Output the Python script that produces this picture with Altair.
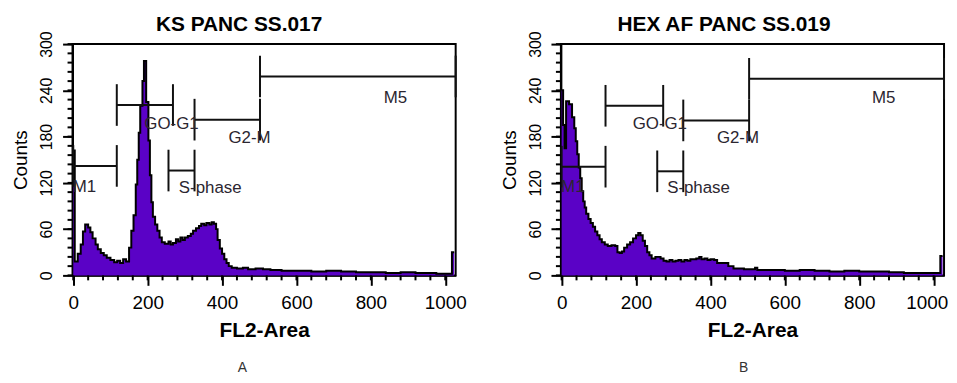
import altair as alt
import pandas as pd

FONT = "Liberation Sans, Arial, sans-serif"
PURPLE = "#5a02c6"
GATE_TEXT = "#2b2630"

# ---- Panel A histogram (bin edges and counts) ----
edges_a = [0, 4, 12, 20, 26, 32, 40, 46, 52, 60, 66, 74, 82, 90, 100, 110, 118, 126, 134, 142,
           150, 156, 162, 168, 172, 176, 180, 186, 190, 196, 202, 206, 210, 214, 220, 226, 232, 238, 246, 256,
           262, 268, 276, 282, 288, 294, 300, 308, 316, 322, 330, 338, 344, 352, 358, 366, 372, 378, 384, 388,
           394, 400, 406, 412, 418, 426, 440, 456, 470, 490, 510, 530, 560, 600, 640, 680, 720, 760, 800, 840,
           880, 920, 960, 976, 1018, 1024]
counts_a = [162, 18, 28, 40, 57, 66, 62, 56, 48, 40,
            34, 29, 26, 23, 20, 17, 19, 16, 21, 18,
            36, 58, 78, 118, 150, 185, 220, 252, 278, 225,
            175, 130, 95, 76, 66, 58, 49, 43, 41, 44,
            40, 42, 47, 44, 49, 46, 49, 51, 54, 58,
            61, 64, 67, 65, 68, 66, 69, 67, 60, 46,
            35, 28, 21, 16, 12, 10, 9, 10, 8, 9,
            8, 7, 6, 6, 5, 6, 5, 4, 4, 3,
            4, 3, 3, 2, 30]

# ---- Panel B histogram ----
edges_b = [0, 4, 8, 12, 20, 28, 34, 38, 42, 46, 50, 54, 58, 62, 66, 72, 78, 84, 90, 96,
           102, 108, 116, 124, 134, 144, 150, 156, 162, 168, 176, 184, 192, 200, 206, 212, 218, 224, 230, 236,
           242, 252, 258, 266, 274, 282, 290, 298, 306, 314, 322, 330, 338, 346, 354, 362, 370, 376, 384, 392,
           400, 410, 418, 448, 462, 490, 520, 526, 560, 600, 640, 680, 720, 760, 800, 840, 880, 920, 960, 1018,
           1024]
counts_b = [240, 195, 165, 226, 222, 205, 191, 174, 157, 140,
            126, 109, 96, 88, 80, 73, 68, 63, 57, 52,
            47, 43, 40, 38, 39, 38, 30, 29, 31, 36,
            40, 43, 48, 52, 55, 52, 45, 38, 30, 26,
            22, 24, 24, 22, 19, 18, 20, 18, 19, 20,
            18, 20, 19, 21, 21, 22, 24, 21, 22, 20,
            21, 20, 16, 12, 9, 8, 10, 7, 7, 6,
            7, 6, 5, 6, 5, 5, 4, 3, 3, 25]

# ---- Gates (markers) ----
gate_names = ["M1", "GO-G1", "S-phase", "G2-M", "M5"]
gate_start_a = [0, 117, 256, 326, 502]
gate_end_a = [117, 268, 326, 502, 1028]
gate_level_a = [142, 221, 136, 202, 258]
gate_start_b = [0, 118, 257, 327, 504]
gate_end_b = [118, 273, 327, 504, 1028]
gate_level_b = [141, 220, 135, 201, 255]
gate_label_x = [30, 264, 368, 474, 866]
gate_label_y = [115, 196, 113, 178, 230]

titles = ["KS PANC SS.017", "HEX AF PANC SS.019"]
captions = ["A", "B"]
x_major = [0, 200, 400, 600, 800, 1000]
x_minor = list(range(0, 1001, 40))
y_major = [0, 60, 120, 180, 240, 300]
y_minor = list(range(0, 301, 12))

W, H = 386, 233
TICK_HALF = 27


def panel(edges, counts, gs, ge, gl, title, caption, cap_x, cap_y, last_shift):
    outline = pd.DataFrame({"x": edges, "count": counts + [counts[-1]],
                            "base": [0] * len(edges)})
    gates = pd.DataFrame({"name": gate_names, "start": gs, "end": ge, "level": gl})
    ticks = pd.DataFrame({
        "x": gs + ge,
        "lo": [v - TICK_HALF for v in gl] * 2,
        "hi": [v + TICK_HALF for v in gl] * 2,
    })
    labels = pd.DataFrame({"name": gate_names, "x": gate_label_x, "y": gate_label_y})
    xminor = pd.DataFrame({"v": x_minor})
    yminor = pd.DataFrame({"v": y_minor})

    xs = alt.Scale(domain=[-2, 1028], nice=False, zero=False)
    ys = alt.Scale(domain=[0, 300], nice=False)

    common = dict(tickColor="black", tickWidth=2, domainColor="black", domainWidth=2,
                  labelFlush=False, labelOverlap=False, grid=False, labelColor="black",
                  titleColor="black", tickSize=10, labelFont=FONT, titleFont=FONT)
    xaxis = alt.Axis(values=x_major, format="d", labelFontSize=19, labelPadding=8,
                     labelOffset={"condition": {"test": "datum.value === 1000", "value": last_shift},
                                  "value": 0},
                     title="FL2-Area", titleFontSize=21, titleFontWeight="bold", titlePadding=8,
                     **common)
    yaxis = alt.Axis(values=y_major, format="d", labelFontSize=16, labelAngle=-90, labelPadding=8,
                     title="Counts", titleFontSize=19, titleFontWeight="normal", titlePadding=8,
                     **common)

    area = alt.Chart(outline).mark_area(interpolate="step-after", color=PURPLE).encode(
        x=alt.X("x:Q", scale=xs, axis=xaxis),
        y=alt.Y("count:Q", scale=ys, axis=yaxis),
        y2="base:Q",
    )
    line = alt.Chart(outline).mark_line(interpolate="step-after", color="black", strokeWidth=2).encode(
        x="x:Q", y="count:Q"
    )
    hrules = alt.Chart(gates).mark_rule(color="#111111", strokeWidth=2).encode(
        x="start:Q", x2="end:Q", y="level:Q"
    )
    vrules = alt.Chart(ticks).mark_rule(color="#111111", strokeWidth=2).encode(
        x="x:Q", y="lo:Q", y2="hi:Q"
    )
    text = alt.Chart(labels).mark_text(font=FONT, fontSize=17, color=GATE_TEXT).encode(
        x="x:Q", y="y:Q", text="name:N"
    )
    xmin = alt.Chart(xminor).mark_rule(color="black", strokeWidth=2).encode(
        x="v:Q", y=alt.value(H), y2=alt.value(H + 5)
    )
    ymin = alt.Chart(yminor).mark_rule(color="black", strokeWidth=2).encode(
        y="v:Q", x=alt.value(0), x2=alt.value(-5)
    )
    cap = alt.Chart(pd.DataFrame({"c": [caption]})).mark_text(
        font=FONT, fontSize=14, color="#333333"
    ).encode(text="c:N", x=alt.value(cap_x), y=alt.value(cap_y))

    return alt.layer(area, line, hrules, vrules, text, xmin, ymin, cap).properties(
        width=W, height=H,
        title=alt.Title(title, font=FONT, fontSize=21, fontWeight="bold", color="black",
                        offset=-4, frame="bounds"),
    )


left = panel(edges_a, counts_a, gate_start_a, gate_end_a, gate_level_a, titles[0], captions[0],
             171, 326, 0)
right = panel(edges_b, counts_b, gate_start_b, gate_end_b, gate_level_b, titles[1], captions[1],
              184, 326, -7)

chart = alt.hconcat(left, right, spacing=31).properties(
    padding={"left": 2, "top": 3, "right": 0, "bottom": 0}
).configure_view(stroke="black", strokeWidth=2).configure_axis(labelOverlap=False)

chart.save("out.html", embed_options={"renderer": "svg", "actions": False})
